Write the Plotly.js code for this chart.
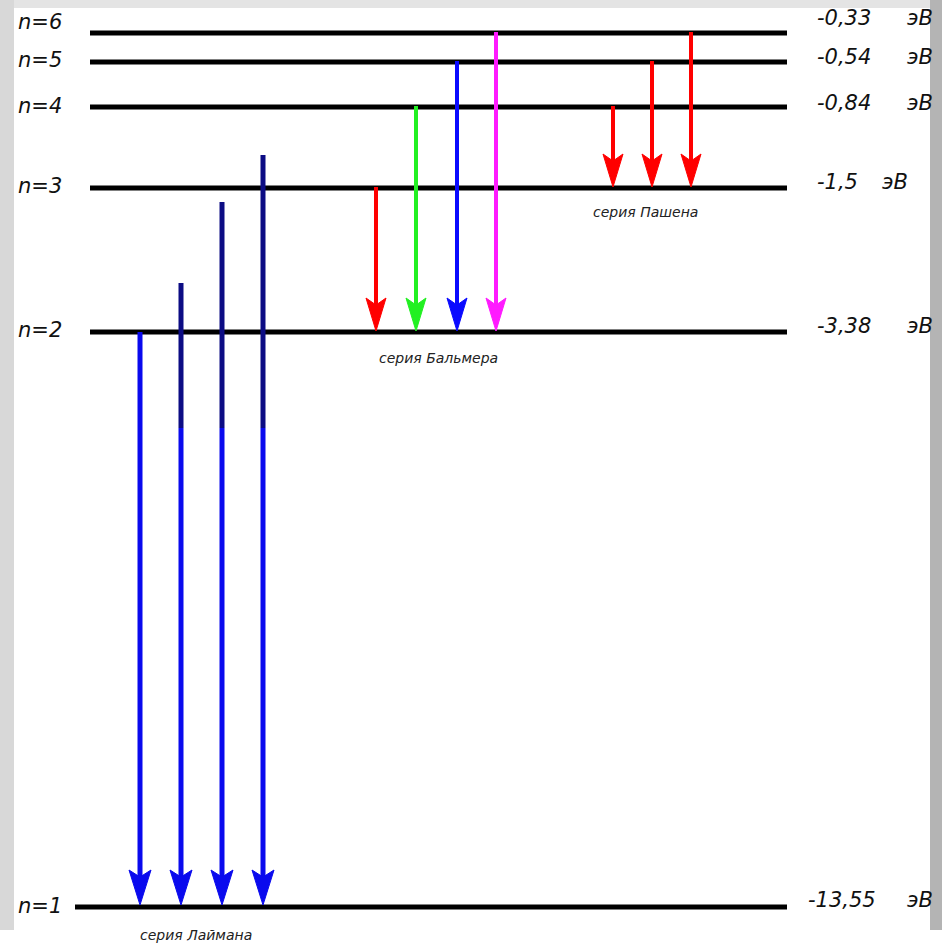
<!DOCTYPE html>
<html>
<head>
<meta charset="utf-8">
<script src="https://cdn.plot.ly/plotly-3.0.1.min.js"></script>
<style>html,body{margin:0;padding:0;background:#fff;}#chart{width:942px;height:946px;}</style>
</head>
<body>
<div id="chart"></div>
<script>
// ---- data ----
const levelN = [1, 2, 3, 4, 5, 6];
const levelEnergy = ["-13,55", "-3,38", "-1,5", "-0,84", "-0,54", "-0,33"];
const lymanFrom = [2, 3, 4, 5];
const balmerFrom = [3, 4, 5, 6];
const paschenFrom = [4, 5, 6];
const seriesNames = ["серия Лаймана", "серия Бальмера", "серия Пашена"];
const unit = "эВ";

// ---- layout of the schematic (diagram positions, not data) ----
const LEVEL_Y = {1: 907, 2: 332, 3: 188, 4: 107, 5: 62, 6: 33};
const LEVEL_X0 = {1: 75, 2: 90, 3: 90, 4: 90, 5: 90, 6: 90};
const LEVEL_X1 = 787;
const LYMAN_X = [140, 181, 222, 263];
const LYMAN_TOP = [332, 283, 202, 155];  // drawn start of each Lyman arrow
const LYMAN_SPLIT = 428;                 // colour change of Lyman arrows
const BALMER_X = [376, 416, 457, 496];
const BALMER_COL = ["#ff0000", "#22f022", "#0a0aff", "#ff1aff"];
const PASCHEN_X = [613, 652, 691];
const LEFT_LABEL_DY = {1: -1, 2: -2, 3: -2, 4: -1, 5: -2, 6: -11};
const RIGHT_LABEL_DY = {1: -7, 2: -6, 3: -6, 4: -4, 5: -5, 6: -15};

const traces = [];
const fontFam = "'DejaVu Sans', sans-serif";

function seg(x0, y0, x1, y1, color, w) {
  traces.push({x: [x0, x1], y: [y0, y1], mode: "lines", line: {color: color, width: w},
    hoverinfo: "skip", showlegend: false});
}
function head(x, tip, color, w, h) {
  traces.push({x: [x, x - w, x, x + w, x], y: [tip, tip - h, tip - h + 7, tip - h, tip],
    mode: "lines", fill: "toself", fillcolor: color, line: {color: color, width: 1},
    hoverinfo: "skip", showlegend: false});
}

// energy levels
levelN.forEach(n => seg(LEVEL_X0[n], LEVEL_Y[n], LEVEL_X1, LEVEL_Y[n], "#000000", 5));

// Lyman series
lymanFrom.forEach((n, i) => {
  const x = LYMAN_X[i], tip = LEVEL_Y[1] - 2;
  const top = LYMAN_TOP[i];
  if (top < LEVEL_Y[2] - 10) {
    seg(x, top, x, LYMAN_SPLIT, "#0c0c84", 5);
    seg(x, LYMAN_SPLIT, x, tip - 20, "#0a0aee", 5);
  } else {
    seg(x, top, x, tip - 20, "#0a0aee", 5);
  }
  head(x, tip, "#0a0aee", 11, 35);
});

// Balmer series
balmerFrom.forEach((n, i) => {
  const x = BALMER_X[i], tip = LEVEL_Y[2] - 1;
  seg(x, LEVEL_Y[n] - 1, x, tip - 20, BALMER_COL[i], 4);
  head(x, tip, BALMER_COL[i], 10, 33);
});

// Paschen series
paschenFrom.forEach((n, i) => {
  const x = PASCHEN_X[i], tip = LEVEL_Y[3] - 1;
  seg(x, LEVEL_Y[n] - 1, x, tip - 20, "#ff0000", 4);
  head(x, tip, "#ff0000", 10, 33);
});

const lblFont = {family: fontFam, size: 21, color: "#111", style: "italic", stretch: "condensed"};
const ann = [];
levelN.forEach((n, i) => {
  ann.push({x: 16, y: LEVEL_Y[n] + LEFT_LABEL_DY[n], xref: "x", yref: "y", xanchor: "left", yanchor: "middle",
    text: "n=" + n, showarrow: false, font: lblFont});
  ann.push({x: n === 1 ? 806 : 815, y: LEVEL_Y[n] + RIGHT_LABEL_DY[n], xref: "x", yref: "y", xanchor: "left", yanchor: "middle",
    text: levelEnergy[i], showarrow: false, font: lblFont});
  ann.push({x: n === 3 ? 880 : 905, y: LEVEL_Y[n] + RIGHT_LABEL_DY[n], xref: "x", yref: "y", xanchor: "left", yanchor: "middle",
    text: unit, showarrow: false, font: lblFont});
});
const seriesPos = [[196, 935], [438, 358], [645, 212]];
seriesNames.forEach((s, i) => {
  ann.push({x: seriesPos[i][0], y: seriesPos[i][1], xref: "x", yref: "y", xanchor: "center", yanchor: "middle",
    text: s, showarrow: false, font: {family: fontFam, size: 14, color: "#222", style: "italic", stretch: "condensed"}});
});

const shapes = [
  {type: "rect", xref: "paper", yref: "paper", x0: 0, x1: 1, y0: 1 - 8/946, y1: 1, fillcolor: "#e4e4e4", line: {width: 0}, layer: "below"},
  {type: "rect", xref: "x", yref: "y", x0: 0, x1: 14, y0: 0, y1: 930, fillcolor: "#d8d8d8", line: {width: 0}, layer: "below"},
  {type: "rect", xref: "x", yref: "y", x0: 930, x1: 942, y0: 0, y1: 930, fillcolor: "#b4b4b4", line: {width: 0}, layer: "below"}
];

const layout = {
  width: 942, height: 946,
  margin: {l: 0, r: 0, t: 0, b: 0},
  paper_bgcolor: "#ffffff", plot_bgcolor: "#ffffff",
  xaxis: {range: [0, 942], visible: false, fixedrange: true},
  yaxis: {range: [946, 0], visible: false, fixedrange: true},
  showlegend: false,
  annotations: ann,
  shapes: shapes
};
Plotly.newPlot("chart", traces, layout, {displayModeBar: false, staticPlot: true});
</script>
</body>
</html>
